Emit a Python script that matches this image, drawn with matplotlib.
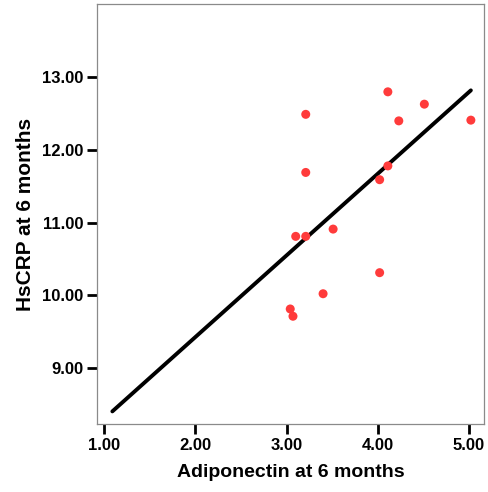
import matplotlib.pyplot as plt

# data
adiponectin = [3.04, 3.07, 3.10, 3.21, 3.21, 3.21, 3.40, 3.51, 4.02, 4.02,
               4.11, 4.11, 4.23, 4.51, 5.02]
hscrp = [9.81, 9.71, 10.81, 10.81, 12.49, 11.69, 10.02, 10.91, 11.59, 10.31,
         11.78, 12.80, 12.40, 12.63, 12.41]

# fitted line ends
fit_x = [1.09, 5.02]
fit_y = [8.40, 12.82]

x_ticks = [1, 2, 3, 4, 5]
y_ticks = [9, 10, 11, 12, 13]

plt.rcParams['font.family'] = ['Liberation Sans', 'DejaVu Sans']
plt.rcParams['font.weight'] = 'bold'

fig = plt.figure(figsize=(4.88, 4.92), dpi=100)
ax = fig.add_axes([0.199, 0.138, 0.793, 0.854])

ax.plot(fit_x, fit_y, color='black', linewidth=2.8, solid_capstyle='round', zorder=2)
ax.scatter(adiponectin, hscrp, s=42, color='#ff3b3b', edgecolors='none', zorder=3)

ax.set_xlim(0.923, 5.165)
ax.set_ylim(8.225, 14.01)
ax.set_xticks(x_ticks)
ax.set_yticks(y_ticks)
ax.set_xticklabels(['%.2f' % v for v in x_ticks])
ax.set_yticklabels(['%.2f' % v for v in y_ticks])

for s in ax.spines.values():
    s.set_color('#8a8a8a')
    s.set_linewidth(0.9)

ax.tick_params(axis='both', direction='out', length=7, width=2, color='black',
               labelsize=12, pad=3)

ax.set_xlabel('Adiponectin at 6 months', fontsize=14, fontweight='bold', labelpad=8)
ax.set_ylabel('HsCRP at 6 months', fontsize=15, fontweight='bold', labelpad=5)

fig.savefig('out.png', dpi=100)
